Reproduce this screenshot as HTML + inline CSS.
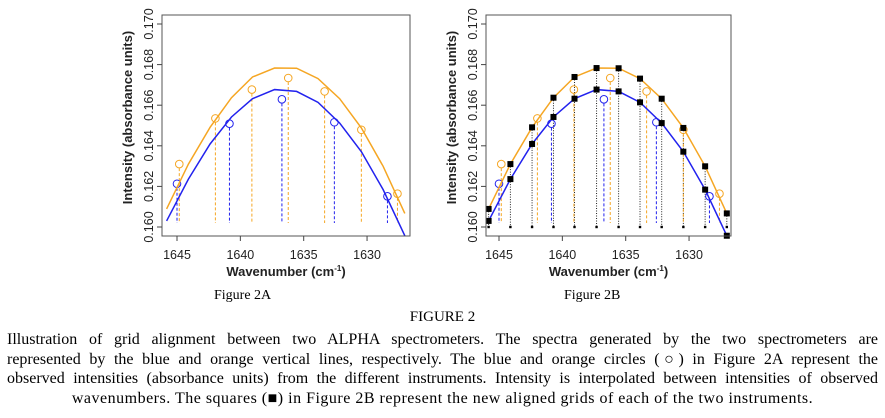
<!DOCTYPE html>
<html><head><meta charset="utf-8"><style>
body{margin:0;width:885px;height:418px;background:#fff;overflow:hidden;position:relative;font-family:"Liberation Serif",serif}
svg{position:absolute;left:0;top:0}
.cap{position:absolute;font-size:14px;color:#000}
#para{position:absolute;left:7px;top:330px;width:871px;font-size:16px;line-height:19.7px;color:#000}
#para div{text-align:justify;text-align-last:justify;white-space:nowrap}
#para div.last{text-align:center;text-align-last:center;letter-spacing:0.5px}
</style></head><body>
<svg id="chart" width="885" height="300"></svg>
<div class="cap" style="left:214px;top:288px">Figure 2A</div>
<div class="cap" style="left:564px;top:288px">Figure 2B</div>
<div class="cap" style="left:0;width:885px;text-align:center;top:309px;font-size:15px">FIGURE 2</div>
<div id="para">
<div>Illustration of grid alignment between two ALPHA spectrometers. The spectra generated by the two spectrometers are</div>
<div>represented by the blue and orange vertical lines, respectively. The blue and orange circles (○) in Figure 2A represent the</div>
<div>observed intensities (absorbance units) from the different instruments. Intensity is interpolated between intensities of observed</div>
<div class="last">wavenumbers. The squares (■) in Figure 2B represent the new aligned grids of each of the two instruments.</div>
</div>
<script>
const gridWn=[1645.82,1644.10,1642.39,1640.70,1639.04,1637.30,1635.56,1633.87,1632.16,1630.45,1628.73,1627.02];
const orangeGrid=[0.16089,0.16310,0.16491,0.16637,0.16739,0.16783,0.16782,0.16731,0.16632,0.16488,0.16299,0.16067];
const blueGrid=[0.16030,0.16236,0.16409,0.16542,0.16632,0.16677,0.16668,0.16614,0.16512,0.16371,0.16184,0.15957];
const orangeObsWn=[1644.82,1641.97,1639.09,1636.22,1633.35,1630.45,1627.60];
const orangeObs=[0.16310,0.16535,0.16677,0.16734,0.16668,0.16479,0.16164];
const blueObsWn=[1645.00,1640.86,1636.72,1632.58,1628.39];
const blueObs=[0.16213,0.16509,0.16629,0.16516,0.16151];
const xTicks=[1645,1640,1635,1630];
const yTicks=[0.160,0.162,0.164,0.166,0.168,0.170];
const yTickLabels=["0.160","0.162","0.164","0.166","0.168","0.170"];
const OR="#f5a623",BL="#2222ee";
const svg=document.getElementById('chart');
const NS="http://www.w3.org/2000/svg";
function mk(tag,attrs,parent){const e=document.createElementNS(NS,tag);for(const k in attrs)e.setAttribute(k,attrs[k]);(parent||svg).appendChild(e);return e;}
function panel(id,L,R,x1645,withGrid){
  const T=15,B=236;
  const g=mk('g',{});
  
  
  const xs=w=>x1645+(1645-w)*12.67;
  const ys=v=>227-(v-0.160)*20300;
  const clipId=id+'-clip';
  const cp=mk('clipPath',{id:clipId},g);mk('rect',{x:L,y:T,width:R-L,height:B-T},cp);
  const pg=mk('g',{'clip-path':'url(#'+clipId+')'},g);
  function obs(wns,vals,col,name){
    wns.forEach((w,i)=>{
      const l=mk('line',{x1:xs(w),x2:xs(w),y1:ys(vals[i])+4,y2:ys(0.1602),stroke:col,'stroke-width':1,'stroke-dasharray':'3,2'},pg);
      
      
      const c=mk('circle',{cx:xs(w),cy:ys(vals[i]),r:3.8,fill:'none',stroke:col,'stroke-width':1},pg);
      
      
    });
  }
  if(withGrid){
    gridWn.forEach((w,i)=>{
      const top=Math.min(ys(orangeGrid[i]),ys(blueGrid[i]));
      const l=mk('line',{x1:xs(w),x2:xs(w),y1:top,y2:ys(0.160),stroke:'#222','stroke-width':1,'stroke-dasharray':'1,1.5'},pg);
      
      
      const d=mk('rect',{x:xs(w)-1.2,y:ys(0.160)-1.2,width:2.4,height:2.4,fill:'#000'},pg);
      
      
    });
  }
  obs(orangeObsWn,orangeObs,OR,'orange-observed');
  obs(blueObsWn,blueObs,BL,'blue-observed');
  function line(vals,col,name){
    const p=mk('polyline',{points:gridWn.map((w,i)=>xs(w)+','+ys(vals[i])).join(' '),fill:'none',stroke:col,'stroke-width':1.5},pg);
    
    
  }
  line(orangeGrid,OR,'orange-curve');line(blueGrid,BL,'blue-curve');
  if(withGrid){
    [orangeGrid,blueGrid].forEach(arr=>gridWn.forEach((w,i)=>{
      const s=mk('rect',{x:xs(w)-3,y:ys(arr[i])-3,width:6,height:6,fill:'#000'},g);
      
      
    }));
  }
  const box=mk('rect',{x:L,y:T,width:R-L,height:B-T,fill:'none',stroke:'#555','stroke-width':1},g);
  
  
  xTicks.forEach(t=>{
    mk('line',{x1:xs(t),x2:xs(t),y1:B,y2:B+5,stroke:'#444'},g);
    const tx=mk('text',{x:xs(t),y:B+23,'text-anchor':'middle','font-family':'Liberation Sans, sans-serif','font-size':12.5,fill:'#222'},g);
    tx.textContent=t;
    
    
  });
  yTicks.forEach((t,i)=>{
    const y=ys(t);
    mk('line',{x1:L,x2:L-5,y1:y,y2:y,stroke:'#444'},g);
    const tx=mk('text',{x:L-9,y:y,'text-anchor':'middle','font-family':'Liberation Sans, sans-serif','font-size':12.5,fill:'#222',transform:`rotate(-90 ${L-9} ${y})`},g);
    tx.textContent=yTickLabels[i];
    
    
  });
  const xt=mk('text',{x:(L+R)/2,y:276,'text-anchor':'middle','font-family':'Liberation Sans, sans-serif','font-size':13,'font-weight':'bold',fill:'#222'},g);
  xt.innerHTML='Wavenumber (cm<tspan dy="-5" font-size="8">-1</tspan><tspan dy="5">)</tspan>';
  
  
  const yt=mk('text',{x:L-30,y:(T+B)/2-8,'text-anchor':'middle','font-family':'Liberation Sans, sans-serif','font-size':13,'font-weight':'bold',fill:'#222',transform:`rotate(-90 ${L-30} ${(T+B)/2-8})`},g);
  yt.textContent='Intensity (absorbance units)';
  
  
}
panel('chart-2a',162,410,177,false);
panel('chart-2b',486,731,499,true);
</script>
</body></html>
